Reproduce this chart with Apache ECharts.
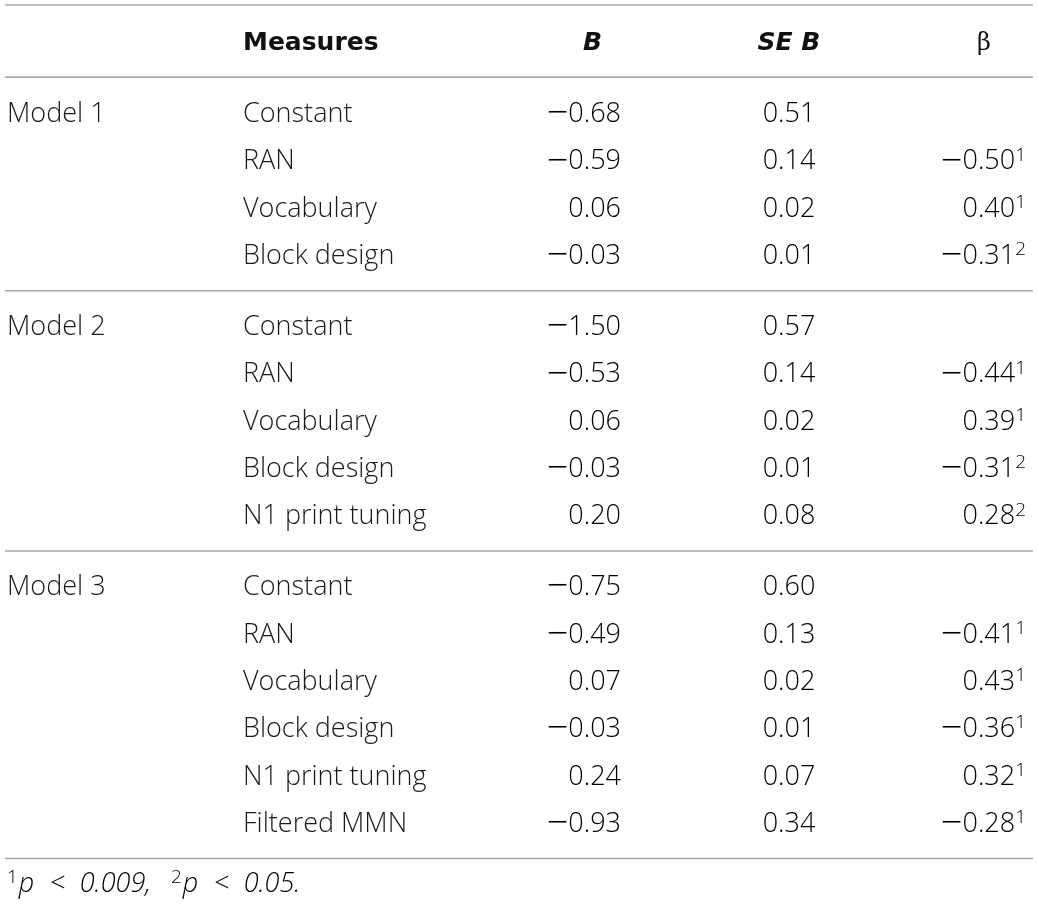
<!DOCTYPE html>
<html><head><meta charset="utf-8">
<script src="https://cdn.jsdelivr.net/npm/echarts@6/dist/echarts.min.js"></script>
<style>html,body{margin:0;padding:0;background:#fff}#c{width:1039px;height:912px}</style>
</head><body><div id="c"></div>
<script>
// ---------- data ----------
const modelNames = ['Model 1', 'Model 2', 'Model 3'];
const groupSizes = [4, 5, 6];
const measures = [
  'Constant', 'RAN', 'Vocabulary', 'Block design',
  'Constant', 'RAN', 'Vocabulary', 'Block design', 'N1 print tuning',
  'Constant', 'RAN', 'Vocabulary', 'Block design', 'N1 print tuning', 'Filtered MMN'
];
const bValues = [-0.68, -0.59, 0.06, -0.03, -1.50, -0.53, 0.06, -0.03, 0.20, -0.75, -0.49, 0.07, -0.03, 0.24, -0.93];
const seBValues = [0.51, 0.14, 0.02, 0.01, 0.57, 0.14, 0.02, 0.01, 0.08, 0.60, 0.13, 0.02, 0.01, 0.07, 0.34];
const betaValues = [null, -0.50, 0.40, -0.31, null, -0.44, 0.39, -0.31, 0.28, null, -0.41, 0.43, -0.36, 0.32, -0.28];
const betaSig = [null, 1, 1, 2, null, 1, 1, 2, 2, null, 1, 1, 1, 1, 1];
const headers = ['', 'Measures', 'B', 'SE B', 'β'];
const footnoteMarks = ['1', '2'];
const footnoteP = ['0.009', '0.05'];

// ---------- layout / style ----------
const FONT = 'Open Sans';
const FW = 300;
const FS = 27;
const TXT = '#1a1a1a';
const RULE = '#a8a8a8';
const HFONT = 'DejaVu Sans';
const colX = { model: 7, measure: 243, b: 621, se: 789, beta: 1026, hB: 602, hBeta: 984, ruleL: 5, ruleR: 1033 };
const HEADER_SLOT = -1.49;

// row slots (one unit per row, half-unit gap between model blocks)
const rows = [];
let idx = 0;
groupSizes.forEach((n, g) => {
  for (let k = 0; k < n; k++) {
    rows.push([idx + g * 0.5, idx, k === 0 ? g : -1]);
    idx++;
  }
});
const lastSlot = rows[rows.length - 1][0];
const ruleSlots = [-2.314, HEADER_SLOT + 0.70];
let acc = 0;
groupSizes.forEach((n) => { acc += n; ruleSlots.push(rows[acc - 1][0] + 0.725); });
const footSlot = lastSlot + 1.27;

const base = { fontFamily: FONT, fontSize: FS, fontWeight: FW, color: TXT, lineHeight: 32 };
const rich = {
  n: base,
  m: Object.assign({}, base, { fontSize: 38 }),
  s: { fontFamily: FONT, fontSize: 19, fontWeight: FW, color: TXT, lineHeight: 24, verticalAlign: 'top' },
  i: Object.assign({}, base, { fontStyle: 'italic' }),
  lt: Object.assign({}, base, { padding: [0, 14, 0, 16] }),
  sp: Object.assign({}, base, { width: 1 }),
  gap: Object.assign({}, base, { width: 20 })
};
const num = v => (v < 0 ? '{m|\u2212}' : '') + '{n|' + Math.abs(v).toFixed(2) + '}';

function txt(x, y, text, align, extra) {
  return {
    type: 'text',
    style: Object.assign({
      text: text, x: x, y: y, align: align, verticalAlign: 'middle',
      fontFamily: FONT, fontSize: FS, fontWeight: FW, fill: TXT
    }, extra || {})
  };
}
function richTxt(x, y, text, align) {
  return { type: 'text', style: { text: text, rich: rich, x: x, y: y, align: align, verticalAlign: 'middle' } };
}

const chart = echarts.init(document.getElementById('c'), null, { renderer: 'canvas' });
chart.setOption({
  animation: false,
  backgroundColor: '#fff',
  grid: { left: 0, top: 0, right: 0, bottom: 0 },
  xAxis: { type: 'value', min: 0, max: 1039, show: false },
  yAxis: { type: 'value', min: -2.42, max: 16.857, inverse: true, show: false },
  series: [
    {
      type: 'custom', name: 'rules', silent: true, clip: false,
      data: ruleSlots.map(s => [s]),
      renderItem(params, api) {
        const s = api.value(0);
        const p1 = api.coord([colX.ruleL, s]);
        const p2 = api.coord([colX.ruleR, s]);
        return { type: 'line', shape: { x1: p1[0], y1: p1[1], x2: p2[0], y2: p2[1] }, style: { stroke: RULE, lineWidth: 1.6 } };
      }
    },
    {
      type: 'custom', name: 'header', silent: true, clip: false,
      data: [[HEADER_SLOT]],
      renderItem(params, api) {
        const s = api.value(0);
        const y = api.coord([0, s])[1];
        const X = v => api.coord([v, s])[0];
        const hb = { fontWeight: 'bold', fontFamily: HFONT, fontSize: 25, fill: '#111' };
        return {
          type: 'group', children: [
            txt(X(colX.measure), y, headers[1], 'left', hb),
            txt(X(colX.hB), y, headers[2], 'right', Object.assign({ fontStyle: 'italic' }, hb)),
            txt(X(colX.se), y, headers[3], 'center', Object.assign({ fontStyle: 'italic' }, hb)),
            txt(X(colX.hBeta), y, headers[4], 'center', { fontFamily: 'DejaVu Serif', fontWeight: 'normal', fontSize: 24, fill: '#111' })
          ]
        };
      }
    },
    {
      type: 'custom', name: 'rows', silent: true, clip: false,
      data: rows,
      renderItem(params, api) {
        const s = api.value(0);
        const i = api.value(1);
        const g = api.value(2);
        const y = api.coord([0, s])[1];
        const X = v => api.coord([v, s])[0];
        const ch = [];
        if (g >= 0) ch.push(txt(X(colX.model), y, modelNames[g], 'left'));
        ch.push(txt(X(colX.measure), y, measures[i], 'left'));
        ch.push(richTxt(X(colX.b), y, num(bValues[i]), 'right'));
        ch.push(richTxt(X(colX.se), y, num(seBValues[i]), 'center'));
        if (betaValues[i] !== null) {
          ch.push(richTxt(X(colX.beta), y, num(betaValues[i]) + '{s|' + betaSig[i] + '}', 'right'));
        }
        return { type: 'group', children: ch };
      }
    },
    {
      type: 'custom', name: 'footnote', silent: true, clip: false,
      data: [[footSlot]],
      renderItem(params, api) {
        const s = api.value(0);
        const y = api.coord([0, s])[1];
        const x = api.coord([colX.model, s])[0];
        const text = '{s|' + footnoteMarks[0] + '}{sp| }{i|p}{lt|<}{i|' + footnoteP[0] + ',}{gap| }{s|' + footnoteMarks[1] + '}{sp| }{i|p}{lt|<}{i|' + footnoteP[1] + '.}';
        return richTxt(x, y, text, 'left');
      }
    }
  ]
});
</script>
</body></html>
